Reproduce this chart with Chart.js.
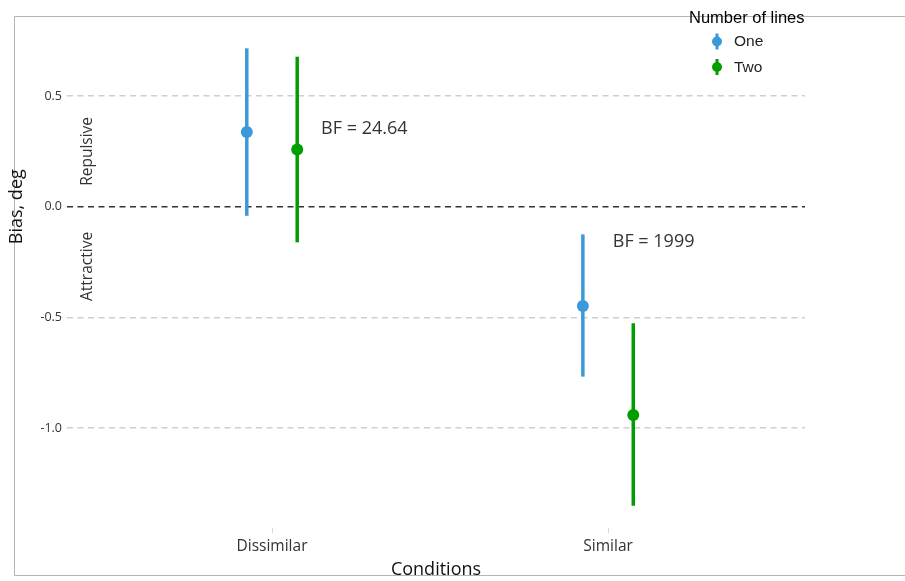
<!DOCTYPE html>
<html>
<head>
<meta charset="utf-8">
<script src="https://cdn.jsdelivr.net/npm/chart.js@4/dist/chart.umd.min.js"></script>
<style>
  html, body { margin: 0; padding: 0; background: #fff; }
  #wrap { width: 905px; height: 581px; }
</style>
</head>
<body>
<div id="wrap"><canvas id="c" width="905" height="581"></canvas></div>
<script>
// Conditions on the x axis
const categories = ['Dissimilar', 'Similar'];
// Series (number of lines)
const seriesNames = ['One', 'Two'];
// Mean bias and interval bounds, one value per condition
const oneMean = [0.338, -0.449];
const oneLow  = [-0.041, -0.768];
const oneHigh = [0.716, -0.125];
const twoMean = [0.259, -0.941];
const twoLow  = [-0.161, -1.352];
const twoHigh = [0.678, -0.527];
// Bayes factor labels, one per condition
const bfLabels = ['BF = 24.64', 'BF = 1999'];
// Y tick values and their labels
const yTicks = [0.5, 0.0, -0.5, -1.0];
const yTickLabels = ['0.5', '0.0', '-0.5', '-1.0'];

const seriesColors = ['#3a9ad9', '#009e00'];
const dodge = 0.075;

function buildData(mean, low, high, offset) {
  return mean.map((m, i) => ({ x: i + 1 + offset, y: m, yMin: low[i], yMax: high[i] }));
}

const datasets = [
  { label: seriesNames[0], data: buildData(oneMean, oneLow, oneHigh, -dodge), color: seriesColors[0] },
  { label: seriesNames[1], data: buildData(twoMean, twoLow, twoHigh, dodge), color: seriesColors[1] }
].map(d => ({
  label: d.label,
  data: d.data,
  backgroundColor: d.color,
  borderColor: d.color,
  pointRadius: 6,
  pointHoverRadius: 6,
  borderWidth: 0,
  showLine: false
}));

// Grey frame around the whole figure
const framePlugin = {
  id: 'frame',
  beforeDraw(chart) {
    const ctx = chart.ctx;
    ctx.save();
    ctx.strokeStyle = '#b4b4b4';
    ctx.lineWidth = 1;
    ctx.beginPath();
    ctx.moveTo(910, 16.5);
    ctx.lineTo(14.5, 16.5);
    ctx.lineTo(14.5, 575.5);
    ctx.lineTo(910, 575.5);
    ctx.stroke();
    ctx.restore();
  }
};

// Vertical interval bars behind each point
const errorBarPlugin = {
  id: 'errorBars',
  beforeDatasetsDraw(chart) {
    const ctx = chart.ctx;
    const ys = chart.scales.y;
    chart.data.datasets.forEach((ds, di) => {
      const meta = chart.getDatasetMeta(di);
      ctx.save();
      ctx.strokeStyle = ds.borderColor;
      ctx.lineWidth = 3.5;
      ctx.lineCap = 'butt';
      meta.data.forEach((pt, i) => {
        const r = ds.data[i];
        ctx.beginPath();
        ctx.moveTo(pt.x, ys.getPixelForValue(r.yMax));
        ctx.lineTo(pt.x, ys.getPixelForValue(r.yMin));
        ctx.stroke();
      });
      ctx.restore();
    });
  }
};

// Axis title, region captions, Bayes factor labels and the legend
const textPlugin = {
  id: 'texts',
  afterDraw(chart) {
    const ctx = chart.ctx;
    const xs = chart.scales.x;
    const ys = chart.scales.y;
    const area = chart.chartArea;
    ctx.save();
    ctx.textAlign = 'center';
    ctx.textBaseline = 'middle';

    // Y axis title, centred on the zero line
    ctx.fillStyle = '#111';
    ctx.font = '18px "Open Sans"';
    ctx.save();
    ctx.translate(17, ys.getPixelForValue(0));
    ctx.rotate(-Math.PI / 2);
    ctx.fillText('Bias, deg', 0, 0);
    ctx.restore();

    // Repulsive / Attractive captions
    ctx.fillStyle = '#333';
    ctx.font = '15.5px "Open Sans"';
    [['Repulsive', 0.25], ['Attractive', -0.27]].forEach(([t, v]) => {
      ctx.save();
      ctx.translate(area.left + 21, ys.getPixelForValue(v));
      ctx.rotate(-Math.PI / 2);
      ctx.fillText(t, 0, 0);
      ctx.restore();
    });

    // Bayes factors
    ctx.font = '18px "Open Sans"';
    ctx.fillStyle = '#333';
    ctx.textAlign = 'left';
    ctx.fillText(bfLabels[0], xs.getPixelForValue(1.146), ys.getPixelForValue(0.352));
    ctx.fillText(bfLabels[1], xs.getPixelForValue(2.014), ys.getPixelForValue(-0.158));

    // Legend
    ctx.fillStyle = '#000';
    ctx.font = '16.5px "Liberation Sans"';
    ctx.fillText('Number of lines', 689, 18);
    chart.data.datasets.forEach((ds, i) => {
      const y = 41.5 + i * 25.5;
      const x = 717;
      ctx.strokeStyle = ds.borderColor;
      ctx.fillStyle = ds.borderColor;
      ctx.lineWidth = 3;
      ctx.beginPath();
      ctx.moveTo(x, y - 8);
      ctx.lineTo(x, y + 8);
      ctx.stroke();
      ctx.beginPath();
      ctx.arc(x, y, 5, 0, Math.PI * 2);
      ctx.fill();
      ctx.fillStyle = '#222';
      ctx.font = '15.5px "Liberation Sans"';
      ctx.fillText(ds.label, 734, y + 0.5);
    });
    ctx.restore();
  }
};

new Chart(document.getElementById('c'), {
  type: 'scatter',
  data: { datasets },
  plugins: [framePlugin, errorBarPlugin, textPlugin],
  options: {
    responsive: false,
    animation: false,
    layout: { padding: { left: 0, top: 16, right: 100, bottom: 0 } },
    plugins: { legend: { display: false }, tooltip: { enabled: false } },
    scales: {
      x: {
        type: 'linear',
        min: 0.39,
        max: 2.586,
        afterBuildTicks: s => { s.ticks = categories.map((c, i) => ({ value: i + 1 })); },
        afterFit: s => { s.height = 53; },
        ticks: {
          callback: v => categories[v - 1],
          font: { family: 'Open Sans', size: 15.5 },
          color: '#333',
          padding: 4,
          maxRotation: 0
        },
        grid: { drawOnChartArea: false, drawTicks: true, tickLength: 5, color: '#d8d8d8', lineWidth: 1 },
        border: { display: false },
        title: {
          display: true,
          text: 'Conditions',
          font: { family: 'Open Sans', size: 18 },
          color: '#111',
          padding: { top: 0, bottom: 0 }
        }
      },
      y: {
        type: 'linear',
        min: -1.452,
        max: 0.862,
        afterBuildTicks: s => { s.ticks = yTicks.map(v => ({ value: v })); },
        afterFit: s => { s.width = 67; },
        ticks: {
          callback: v => yTickLabels[yTicks.indexOf(v)],
          font: { family: 'Open Sans', size: 12.5 },
          color: '#333',
          padding: 5
        },
        grid: {
          drawTicks: false,
          color: ctx => (ctx.tick && ctx.tick.value === 0 ? '#333' : '#cfcfcf'),
          lineWidth: ctx => (ctx.tick && ctx.tick.value === 0 ? 1.6 : 1.4)
        },
        border: { display: false, dash: [6, 4.5] },
        title: { display: false }
      }
    }
  }
});
</script>
</body>
</html>
